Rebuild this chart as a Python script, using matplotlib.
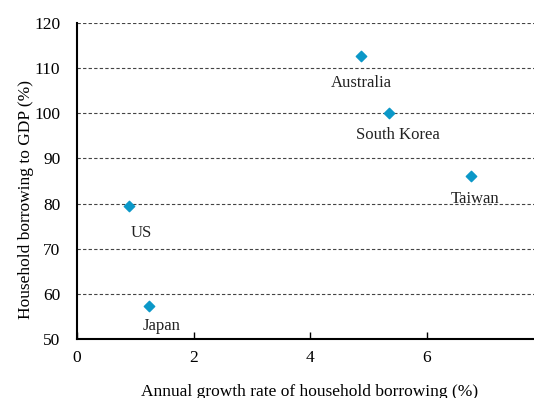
import matplotlib.pyplot as plt

countries = ['Australia', 'South Korea', 'Taiwan', 'US', 'Japan']
growth = [4.88, 5.36, 6.77, 0.89, 1.24]
borrowing = [112.7, 100.1, 86.2, 79.5, 57.3]

# label offsets in points (dx, dy) relative to each marker
label_offsets = [(0, -19.5), (6, -16), (3, -17), (9, -19.5), (9, -14)]

plt.rcParams['font.family'] = ['Liberation Serif', 'DejaVu Serif']

fig = plt.figure(figsize=(5.34, 3.98), dpi=100)
ax = fig.add_axes([0.1442, 0.1482, 0.8727, 0.794])

ax.scatter(growth, borrowing, marker='D', s=28, color='#0B98C8', zorder=3)

for name, x, y, off in zip(countries, growth, borrowing, label_offsets):
    ax.annotate(name, (x, y), xytext=off, textcoords='offset points',
                ha='center', va='center', fontsize=12, color='#222222')

ax.set_xlim(0, 8)
ax.set_ylim(50, 120)
ax.set_xticks([0, 2, 4, 6])
ax.set_yticks(range(50, 121, 10))
ax.yaxis.grid(True, linestyle=(0, (3, 2)), color='#444444', linewidth=0.8)
ax.set_axisbelow(True)

for s in ['top', 'right']:
    ax.spines[s].set_visible(False)
ax.spines['left'].set_linewidth(1.5)
ax.spines['bottom'].set_linewidth(1.5)

ax.tick_params(axis='x', direction='in', length=5, width=1, labelsize=12.5, pad=8)
ax.tick_params(axis='y', length=0, labelsize=12.5, pad=12)

ax.set_xlabel('Annual growth rate of household borrowing (%)', fontsize=12.5, labelpad=13)
ax.set_ylabel('Household borrowing to GDP (%)', fontsize=12.5)
ax.yaxis.set_label_coords(-0.0915, 0.44)

fig.savefig('out.png', dpi=100)
